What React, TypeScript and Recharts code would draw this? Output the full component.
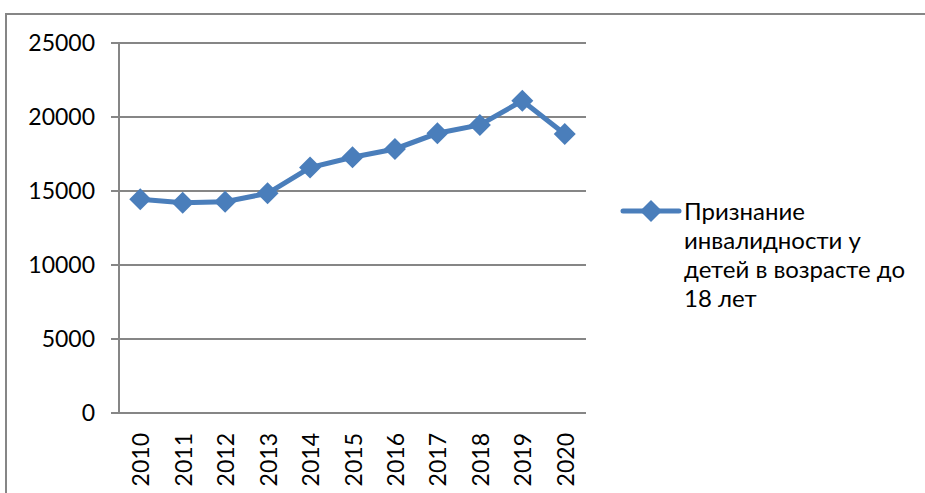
import React from "react";
import { LineChart, Line, XAxis, YAxis, CartesianGrid } from "recharts";

const years = ["2010", "2011", "2012", "2013", "2014", "2015", "2016", "2017", "2018", "2019", "2020"];
const values = [14440, 14210, 14280, 14840, 16580, 17280, 17840, 18900, 19460, 21100, 18850];
const yTicks = [0, 5000, 10000, 15000, 20000, 25000];
const seriesName = "Признание инвалидности у детей в возрасте до 18 лет";

const data = years.map((y, i) => ({ year: y, value: values[i] }));
const boundaryTicks = years.map((_, i) => i).concat([years.length]);

const FONT = "Lato, 'Open Sans', sans-serif";
const BLUE = "#4a7ebb";
const GRAY = "#868686";

const Diamond = (props: any) => {
  const { cx, cy } = props;
  if (cx == null || cy == null) return null;
  const r = 11;
  return (
    <polygon
      points={`${cx},${cy - r} ${cx + r},${cy} ${cx},${cy + r} ${cx - r},${cy}`}
      fill={BLUE}
      stroke="none"
    />
  );
};

const XTick = (props: any) => {
  const { x, y, payload } = props;
  return (
    <text
      x={x}
      y={y}
      transform={`rotate(-90, ${x}, ${y})`}
      textAnchor="end"
      dominantBaseline="central"
      fontFamily={FONT}
      fontSize={23}
      fill="#000"
    >
      {payload.value}
    </text>
  );
};

const LegendBox = () => (
  <div
    style={{
      position: "absolute",
      left: 620,
      top: 196,
      width: 305,
      display: "flex",
      alignItems: "flex-start",
      fontFamily: FONT,
    }}
  >
    <svg width={62} height={30} style={{ flex: "none" }}>
      <line x1={3} y1={15} x2={59} y2={15} stroke={BLUE} strokeWidth={5} strokeLinecap="round" />
      <polygon points="31,4 42,15 31,26 20,15" fill={BLUE} />
    </svg>
    <div style={{ fontSize: 24, lineHeight: "29px", color: "#000", width: 236, marginLeft: 2 }}>
      {seriesName}
    </div>
  </div>
);

export default function App() {
  return (
    <div style={{ position: "fixed", left: 0, top: 0, width: 925, height: 493, overflow: "hidden", background: "#fff" }}>
      <div
        style={{
          position: "absolute",
          left: 5,
          top: 13,
          width: 960,
          height: 520,
          border: `2px solid ${GRAY}`,
          boxSizing: "border-box",
        }}
      />
      <div style={{ position: "absolute", left: 0, top: 0 }}>
        <LineChart width={925} height={493} data={data} margin={{ top: 43, right: 339, bottom: 0, left: 0 }}>
          <CartesianGrid horizontal vertical={false} stroke={GRAY} strokeWidth={2} />
          <XAxis
            xAxisId="grid"
            type="number"
            domain={[0, years.length]}
            ticks={boundaryTicks}
            allowDataOverflow
            height={0}
            tickSize={8}
            tickFormatter={() => ""}
            axisLine={{ stroke: GRAY, strokeWidth: 2 }}
            tickLine={{ stroke: GRAY, strokeWidth: 2 }}
          />
          <XAxis
            xAxisId="cat"
            dataKey="year"
            scale="band"
            height={80}
            axisLine={false}
            tickLine={false}
            tickMargin={14}
            tick={<XTick />}
            interval={0}
          />
          <YAxis
            domain={[0, 25000]}
            ticks={yTicks}
            width={119}
            tickSize={8}
            tickMargin={16}
            axisLine={{ stroke: GRAY, strokeWidth: 2 }}
            tickLine={{ stroke: GRAY, strokeWidth: 2 }}
            tick={{ fontFamily: FONT, fontSize: 23, fill: "#000" }}
            interval={0}
          />
          <Line
            xAxisId="cat"
            dataKey="value"
            name={seriesName}
            stroke={BLUE}
            strokeWidth={5}
            dot={<Diamond />}
            activeDot={false}
            isAnimationActive={false}
          />
        </LineChart>
      </div>
      <LegendBox />
    </div>
  );
}
